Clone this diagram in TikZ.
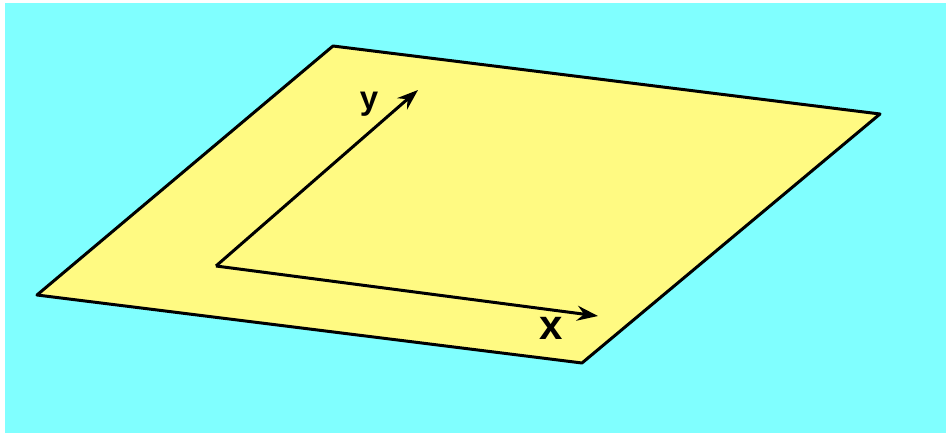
\documentclass[tikz,border=0pt]{standalone}
\usepackage{fontspec}
\setmainfont{Liberation Sans}
\usetikzlibrary{arrows.meta}
\definecolor{skycyan}{RGB}{128,255,255}
\definecolor{planeyellow}{RGB}{255,250,130}
\tikzset{axis/.style = {line width=3pt, -{Stealth[length=21pt, width=15pt, inset=7pt]}},
  axislabel/.style = {font=\bfseries, inner sep=0pt}}

\begin{document}
\begin{tikzpicture}[x=1pt, y=-1pt]
      \useasboundingbox (0,0) rectangle (946,433);
      \fill[skycyan] (5,3) rectangle (946,433);
      % the plane
      \filldraw[fill=planeyellow, line width=3pt, line join=round]
        (333,46) -- (880,114) -- (582,363) -- (37,295) -- cycle;
      % axes
      \coordinate (o) at (216,266);
      \coordinate (xtip) at (598,316);
      \coordinate (ytip) at (418,90);
      \draw[axis] (o) -- (xtip);
      \draw[axis] (o) -- (ytip);
      \node[axislabel, font=\fontsize{33}{33}\bfseries] (ylab) at (369,104) {y};
      \node[axislabel, font=\fontsize{42}{42}\bfseries] (xlab) at (551,328) {x};
\end{tikzpicture}
\end{document}
